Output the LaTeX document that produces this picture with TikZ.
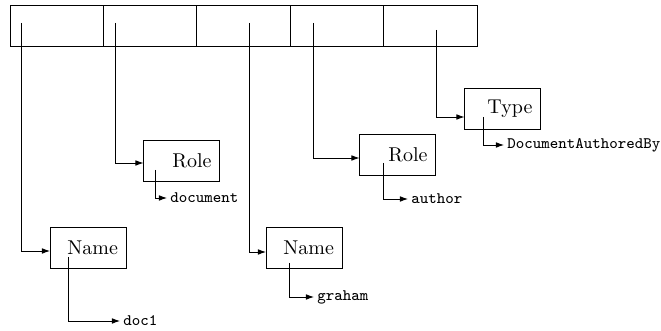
\documentclass[tikz,border=0pt]{standalone}
\usepackage{tikz}
\usetikzlibrary{arrows.meta,positioning}
\tikzset{cell/.style={draw,minimum width=46.7pt,minimum height=20.5pt,inner sep=0pt,outer sep=0pt},
  recbox/.style={draw,text width=30pt,align=right,minimum height=20.5pt,inner sep=4pt,outer sep=0pt},
  val/.style={anchor=west,inner sep=1.5pt,font=\ttfamily\footnotesize}}
\begin{document}
\begin{tikzpicture}[x=.5pt,y=-.5pt,>={Latex[length=4pt,width=2.8pt]}]
\useasboundingbox (0,0) rectangle (661,331);
% the record array
\node[cell] (c1) at (56.7,26) {};\node[cell,right=0pt of c1] (c2) {};\node[cell,right=0pt of c2] (c3) {};
\node[cell,right=0pt of c3] (c4) {};\node[cell,right=0pt of c4] (c5) {};
\coordinate (s1) at (21,23);\coordinate (s2) at (115,23);\coordinate (s3) at (249,23);
\coordinate (s4) at (313,23);\coordinate (s5) at (436,30);
% field boxes
\node[recbox] (name1) at (88,247.5) {Name};\node[recbox] (role1) at (181.5,160.5) {Role};
\node[recbox] (name2) at (304,247.5) {Name};\node[recbox] (role2) at (397.5,154.5) {Role};
\node[recbox] (type1) at (502.5,108.5) {Type};
\draw[->] (s1) |- ([yshift=-1.75pt]name1.west);\draw[->] (s2) |- ([yshift=-1.25pt]role1.west);
\draw[->] (s3) |- ([yshift=-2.25pt]name2.west);\draw[->] (s4) |- ([yshift=-1.75pt]role2.west);
\draw[->] (s5) |- ([yshift=-4.25pt]type1.west);
% values
\node[val] (v1) at (120,321) {doc1};\node[val] (v2) at (167,198) {document};
\node[val] (v3) at (314,297) {graham};\node[val] (v4) at (408,199) {author};
\node[val] (v5) at (504,145) {DocumentAuthoredBy};
\coordinate (i1) at (68,257);\coordinate (i2) at (155,170);\coordinate (i3) at (289,263);
\coordinate (i4) at (383,163);\coordinate (i5) at (483,117);
\draw[->] (i1) |- (v1);\draw[->] (i2) |- (v2);\draw[->] (i3) |- (v3);\draw[->] (i4) |- (v4);\draw[->] (i5) |- (v5);
\end{tikzpicture}
\end{document}
